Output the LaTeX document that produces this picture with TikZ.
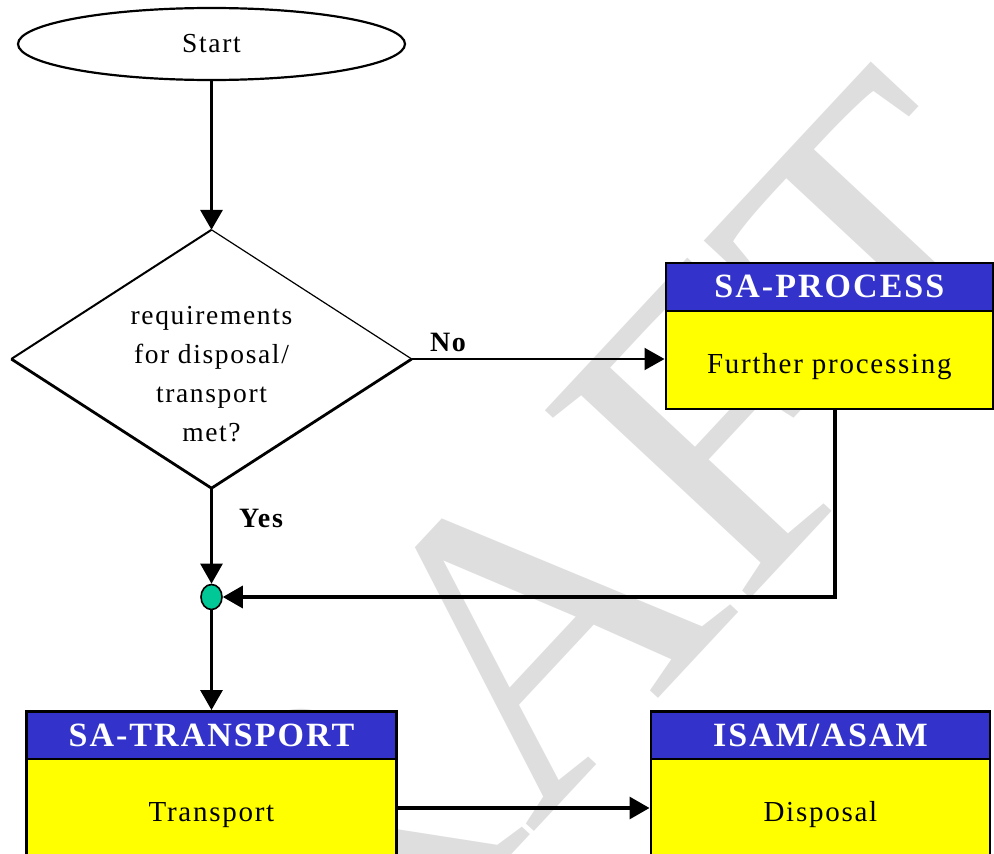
\documentclass[tikz,border=0pt]{standalone}
\usepackage{fontspec}
\setmainfont{Liberation Serif}
\newfontfamily\spaced[LetterSpace=6]{Liberation Serif}
\newfontfamily\wmfont{Liberation Serif}
\usetikzlibrary{shapes.geometric,arrows.meta}

\definecolor{hdrblue}{RGB}{51,51,204}
\definecolor{bodyyellow}{RGB}{255,255,0}
\definecolor{juncgreen}{RGB}{0,200,150}
\definecolor{wmgray}{RGB}{222,222,222}

\begin{document}
\begin{tikzpicture}[x=1pt,y=-1pt,
  startnode/.style={ellipse,draw=black,line width=2.2pt,fill=white,
    minimum width=387pt,minimum height=72pt,inner sep=0pt,
    font=\spaced\fontsize{27.5}{33}\selectfont},
  decision/.style={diamond,draw=none,fill=white,aspect=1.55,
    minimum width=400pt,minimum height=258pt,inner sep=0pt},
  dectextstyle/.style={align=center,inner sep=0pt,
    font=\spaced\fontsize{27.5}{39}\selectfont},
  lbl/.style={inner sep=0pt,font=\spaced\bfseries\fontsize{28}{30}\selectfont},
  hdr/.style={rectangle,draw=black,line width=2.5pt,fill=hdrblue,text=white,
    inner sep=0pt,font=\spaced\bfseries\fontsize{34}{36}\selectfont},
  bodybox/.style={rectangle,draw=black,line width=2.5pt,fill=bodyyellow,
    inner sep=0pt,text height=27pt,text depth=0pt,
    font=\spaced\fontsize{29}{31}\selectfont},
  junction/.style={ellipse,draw=black,line width=1.6pt,fill=juncgreen,
    minimum width=21pt,minimum height=25pt,inner sep=0pt},
  conn/.style={draw=black,-{Triangle[length=20pt,width=22pt]}},
  watermark/.style={inner sep=0pt,text=wmgray,
    font=\wmfont\fontsize{425}{425}\selectfont}
]
\useasboundingbox (0,0) rectangle (994,854);
\clip (0,0) rectangle (994,854);
\fill[white] (0,0) rectangle (994,854);

% watermark behind the chart
\node[watermark,anchor=base west,rotate=47] (wmright) at (531.5,834.2) {AFT};
\node[watermark,anchor=base east,rotate=47] (wmleft) at (531.5,834.2) {DR};

% flow nodes
\node[startnode] (start) at (211.5,44) {Start};
\node[decision] (dec) at (211.5,359) {};
% diamond outline: light upper edges, heavy lower edges
\draw[line width=2pt,line join=miter] (dec.west) -- (dec.north);
\draw[line width=1.2pt] (dec.north) -- (dec.east);
\draw[line width=2.8pt,line join=round] (dec.east) -- (dec.south) -- (dec.west);
\node[dectextstyle] (dectext) at (211.5,374) {requirements\\for disposal/\\transport\\met?};

\node[hdr,minimum width=327.3pt,minimum height=47.7pt] (procH) at (829.4,286.9) {SA-PROCESS};
\node[bodybox,minimum width=327.3pt,minimum height=98.3pt] (proc) at (829.4,359.9) {Further processing};

\node[junction] (junc) at (211.5,597) {};

\node[hdr,minimum width=369.6pt,minimum height=48pt] (transH) at (211.5,735.3) {SA-TRANSPORT};
\node[bodybox,minimum width=369.6pt,minimum height=98pt] (trans) at (211.5,808) {Transport};

\node[hdr,minimum width=339.3pt,minimum height=47.5pt] (isamH) at (820.4,735.3) {ISAM/ASAM};
\node[bodybox,minimum width=339.3pt,minimum height=98pt] (isam) at (820.4,808) {Disposal};

% branch labels
\node[lbl] (nolbl) at (448,342) {No};
\node[lbl] (yeslbl) at (261,518) {Yes};

% connectors
\draw[conn,line width=3.5pt] (start) -- (dec);
\draw[conn,line width=2pt] (dec.east) -- (dec.east -| proc.west);
\draw[conn,line width=2.5pt] (dec) -- (junc);
\draw[conn,line width=3.3pt] ([xshift=5.6pt]proc.south) |- (junc.east);
\draw[conn,line width=3pt] (junc) -- (transH);
\draw[conn,line width=3.3pt] (trans) -- (isam);
\end{tikzpicture}
\end{document}
